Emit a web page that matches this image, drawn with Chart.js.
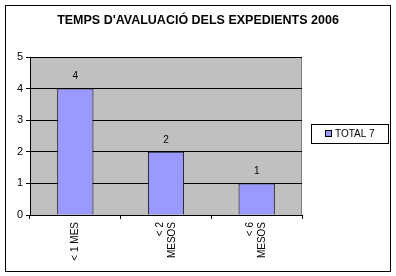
<!DOCTYPE html>
<html>
<head>
<meta charset="utf-8">
<style>
  body { margin: 0; background: #fff; }
  #wrap { width: 396px; height: 276px; }
</style>
<script src="https://cdn.jsdelivr.net/npm/chart.js@4/dist/chart.umd.min.js"></script>
</head>
<body>
<div id="wrap"><canvas id="myChart" width="396" height="276"></canvas></div>
<script>
const categories = [['< 1 MES'], ['< 2', 'MESOS'], ['< 6', 'MESOS']];
const totals = [4, 2, 1];
const yTicks = [0, 1, 2, 3, 4, 5];
const seriesName = 'TOTAL 7';
const chartTitle = "TEMPS D'AVALUACIÓ DELS EXPEDIENTS 2006";

const font = 'Liberation Sans, Arial, sans-serif';

// outer frame, title, grey plot area, category labels, value labels, legend
const excelLook = {
  id: 'excelLook',
  beforeDraw(chart) {
    const ctx = chart.ctx;
    const a = chart.chartArea;
    ctx.save();
    ctx.fillStyle = '#fff';
    ctx.fillRect(0, 0, chart.width, chart.height);
    ctx.strokeStyle = '#000';
    ctx.lineWidth = 1;
    ctx.strokeRect(5.5, 5.5, 385, 266);
    ctx.fillStyle = '#c0c0c0';
    ctx.fillRect(a.left, a.top, a.right - a.left, a.bottom - a.top);
    ctx.strokeStyle = '#808080';
    ctx.strokeRect(a.left + 0.5, a.top + 0.5, a.right - a.left - 1, a.bottom - a.top);

    ctx.fillStyle = '#000';
    ctx.font = 'bold 12.5px ' + font;
    ctx.textAlign = 'center';
    ctx.textBaseline = 'middle';
    ctx.fillText(chartTitle, 198, 21);
    ctx.restore();
  },
  afterDraw(chart) {
    const ctx = chart.ctx;
    const x = chart.scales.x;
    ctx.save();
    ctx.fillStyle = '#000';
    ctx.font = '10px ' + font;

    // rotated category labels, read bottom to top
    categories.forEach((lines, i) => {
      const cx = x.getPixelForValue(i);
      const n = lines.length;
      lines.forEach((t, j) => {
        ctx.save();
        ctx.translate(cx + (j - (n - 1) / 2) * 12, chart.chartArea.bottom + 7);
        ctx.rotate(-Math.PI / 2);
        ctx.textAlign = 'right';
        ctx.textBaseline = 'middle';
        ctx.fillText(t, 0, 0);
        ctx.restore();
      });
    });

    // value labels above bars
    const meta = chart.getDatasetMeta(0);
    ctx.textAlign = 'center';
    ctx.textBaseline = 'middle';
    meta.data.forEach((bar, i) => {
      ctx.fillText(String(totals[i]), bar.x, bar.y - 12);
    });

    // legend
    ctx.strokeStyle = '#000';
    ctx.strokeRect(311.5, 124.5, 77, 19);
    ctx.fillStyle = '#9999ff';
    ctx.fillRect(325.5, 130.5, 6, 6);
    ctx.strokeRect(325.5, 130.5, 6, 6);
    ctx.fillStyle = '#000';
    ctx.textAlign = 'left';
    ctx.fillText(seriesName, 335, 134);
    ctx.restore();
  }
};

new Chart('myChart', {
  type: 'bar',
  data: {
    labels: categories.map(l => l.join(' ')),
    datasets: [{
      label: seriesName,
      data: totals,
      backgroundColor: '#9999ff',
      borderColor: '#000',
      borderWidth: 1,
      categoryPercentage: 1,
      barPercentage: 0.4
    }]
  },
  options: {
    responsive: false,
    animation: false,
    layout: { padding: { left: 0, right: 94, top: 57, bottom: 0 } },
    plugins: {
      legend: { display: false },
      tooltip: { enabled: false },
      title: { display: false }
    },
    scales: {
      x: {
        afterFit(s) { s.height = 61; },
        ticks: { display: false },
        grid: { offset: true, drawOnChartArea: false, drawTicks: true, tickLength: 4, color: '#000' },
        border: { display: true, color: '#000' }
      },
      y: {
        min: 0,
        max: 5,
        afterFit(s) { s.width = 30; },
        afterBuildTicks(s) { s.ticks = yTicks.map(v => ({ value: v })); },
        ticks: { color: '#000', font: { family: font, size: 11 }, padding: 3 },
        grid: { color: '#000', tickLength: 4 },
        border: { display: true, color: '#000' }
      }
    }
  },
  plugins: [excelLook]
});
</script>
</body>
</html>
